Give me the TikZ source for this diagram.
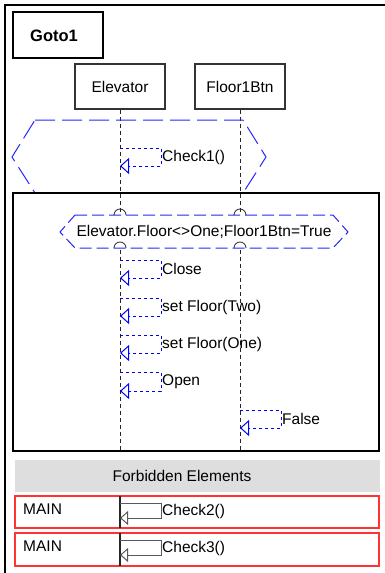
\documentclass[tikz,border=0pt]{standalone}
\usepackage{fontspec}
\setmainfont{Liberation Sans}
\usetikzlibrary{arrows.meta}

\begin{document}
\begin{tikzpicture}[x=1pt, y=-1pt,
	every node/.style={font=\fontsize{15.5}{18}\selectfont, inner sep=0pt},
	objbox/.style={draw=black!80, line width=1.2pt, minimum width=90pt, minimum height=45pt},
	lifeline/.style={draw=black!85, line width=1pt, dash pattern=on 4pt off 3pt},
	fragline/.style={draw=blue!85!white, line width=1pt, dash pattern=on 20pt off 7pt},
	condline/.style={draw=blue!85!white, line width=1pt, dash pattern=on 12pt off 5pt},
	selfmsg/.style={draw=blue, line width=1pt, dash pattern=on 3pt off 3pt, -{Triangle[open, length=9pt, width=16pt]}},
	forbmsg/.style={draw=black!65, line width=1pt, -{Triangle[open, length=8pt, width=14pt]}},
	msglabel/.style={anchor=west},
	forbbox/.style={draw=red!80, line width=1.5pt}]
			\useasboundingbox (0,0) rectangle (385,573);
			\draw[line width=1.5pt] (385,5) -- (5,5) -- (5,573);
			
			\node[draw, line width=2.5pt, minimum width=90pt, minimum height=46pt] (goto) at (58,35) {};
			\node[font=\fontsize{16.5}{18}\selectfont\bfseries] (goto-lbl) at (54,36) {Goto1};
			
			\node[objbox] (elev) at (120,86.5) {Elevator};
			\node[objbox] (btn) at (240,86.5) {Floor1Btn};
			
			\coordinate (loop-bottom) at (0,451);
			\draw[lifeline] (elev.south) -- (elev.south |- loop-bottom);
			\draw[lifeline] (btn.south) -- (btn.south |- loop-bottom);
			
			\draw[fragline] (35,120) -- (243,120) -- (266,157) -- (243,193) -- (35,193) -- (12,157) -- cycle;
			
			\draw[line width=2.5pt] (13,193) rectangle (379,451);
			
			\draw[condline, fill=white] (75,215) -- (333,215) -- (348,232) -- (333,248) -- (75,248) -- (60,232) -- cycle;
			\foreach \x in {120,240} {
				\draw[black!85, line width=0.8pt] (\x-6,215) arc[start angle=180, end angle=360, radius=6];
				\draw[black!85, line width=0.8pt] (\x-6,248) arc[start angle=180, end angle=360, radius=6];
			}
			\node (cond) at (204,232) {Elevator.Floor<>One;Floor1Btn=True};
			
			\foreach \n/\ya/\yb/\lbl in {check/148/166/Check1(), close/260/278/Close, two/298/316/set Floor(Two), one/335/353/set Floor(One), open/372/391/Open} {
				\coordinate (\n-out) at (elev.south |- 0,\ya);
				\coordinate (\n-in) at (elev.south |- 0,\yb);
				\draw[selfmsg] (\n-out) -- ++(41,0) |- (\n-in);
				\node[msglabel] (\n-lbl) at (162,{(\ya+\yb)/2}) {\lbl};
			}
			
			\coordinate (false-out) at (btn.south |- 0,410);
			\coordinate (false-in) at (btn.south |- 0,428);
			\draw[selfmsg] (false-out) -- ++(41,0) |- (false-in);
			\node[msglabel] (false-lbl) at (282,419) {False};
			
			\fill[black!13] (15,460) rectangle (380,492);
			\node (forb) at (182,476) {Forbidden Elements};
			
			\foreach \n/\ya/\yb in {2/496/528, 3/533/566} {
				\draw[forbbox] (15,\ya) rectangle (379,\yb);
				\node[anchor=west] (main\n) at (23,\ya+13) {MAIN};
				\draw[black!85, line width=1.2pt] (120,\ya) -- (120,\yb);
				\coordinate (chk\n-out) at (120,\ya+7);
				\coordinate (chk\n-in) at (120,\ya+22);
				\draw[forbmsg] (chk\n-out) -- ++(41,0) |- (chk\n-in);
				\node[msglabel] (chk\n-lbl) at (162,\ya+15) {Check\n()};
			}
\end{tikzpicture}
\end{document}
